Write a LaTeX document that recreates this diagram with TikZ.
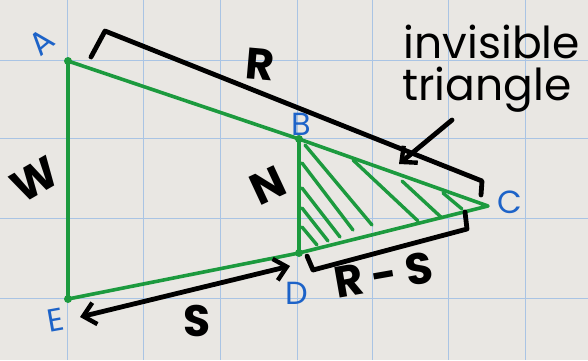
\documentclass[tikz,border=0pt]{standalone}
\usepackage{fontspec}
\setmainfont{Poppins}
\usetikzlibrary{arrows.meta}
\definecolor{paper}{HTML}{E9E7E3}
\definecolor{gridblue}{HTML}{A9C4E4}
\definecolor{gr}{HTML}{1C9A3E}
\definecolor{lblue}{HTML}{1D63C8}
\tikzset{
  gridline/.style={draw=gridblue, line width=0.5pt},
  edge/.style={draw=gr, line width=1.8pt, line join=round, line cap=round},
  hatchline/.style={draw=gr, line width=1.7pt, line cap=round},
  ink/.style={draw=black, line width=2.4pt, line join=round, line cap=round},
  barb/.style={-{Straight Barb[length=6pt,width=11pt,line width=2.2pt]}},
  dbarb/.style={{Straight Barb[length=6pt,width=11pt,line width=2.2pt]}-{Straight Barb[length=6pt,width=11pt,line width=2.2pt]}},
  ptlab/.style={text=lblue, font=\fontsize{16}{16}\selectfont, inner sep=0pt},
  lab/.style={text=black, font=\fontsize{22}{22}\selectfont\bfseries, inner sep=0pt},
  note/.style={text=black, font=\fontsize{22}{22}\selectfont, inner sep=0pt},
  dot/.style={fill=gr}
}
\begin{document}
\begin{tikzpicture}[x=0.5pt,y=-0.5pt]
\fill[paper] (0,0) rectangle (588,360);
\useasboundingbox (0,0) rectangle (588,360);
% graph paper
\foreach \x in {67,143,220,297,372,448,525} \draw[gridline] (\x,0) -- (\x,360);
\foreach \y in {60,138,218,298} \draw[gridline] (0,\y) -- (588,\y);
% points
\coordinate (A) at (68,61);
\coordinate (B) at (299,139);
\coordinate (C) at (488,206);
\coordinate (D) at (299,253);
\coordinate (E) at (68,299);
% hatching of triangle BDC
\draw[hatchline] (305,145) -- (372,225);
\draw[hatchline] (353,160) -- (418,221);
\draw[hatchline] (402,181) -- (442,218);
\draw[hatchline] (443,193) -- (462,209);
\draw[hatchline] (302,163) -- (353,230);
\draw[hatchline] (302,188) -- (340,237);
\draw[hatchline] (302,208) -- (328,241);
\draw[hatchline] (302,227) -- (317,245);
% green figure
\draw[edge] (A) -- (B) -- (C) -- (D) -- (E) -- cycle;
\draw[edge] (B) -- (D);
\foreach \p in {A,B,D,E} \fill[dot] (\p) circle (2pt);
% point labels
\node[ptlab, rotate=40] (lA) at (42,42) {A};
\node[ptlab] (lB) at (301,124) {B};
\node[ptlab] (lC) at (510,202) {C};
\node[ptlab] (lD) at (297,293) {D};
\node[ptlab, rotate=10] (lE) at (56,320) {E};
% R bracket
\coordinate (r1) at (91,57);
\coordinate (r2) at (105,31);
\coordinate (r3) at (482,181);
\coordinate (r4) at (481,195);
\draw[ink] (r1) -- (r2) -- (r3) -- (r4);
\node[lab, rotate=-5] (lR) at (260,64) {R};
% invisible triangle note
\node[note] (inv) at (492,42) {invisible};
\node[note] (tri) at (487,90) {triangle};
\coordinate (aStart) at (452,120);
\coordinate (aTip) at (399,164);
\draw[ink, barb] (aStart) -- (aTip);
% W and N
\node[lab, rotate=30] (lW) at (35,180) {W};
\node[lab, rotate=25] (lN) at (268,186) {N};
% S arrow
\coordinate (s1) at (80,317);
\coordinate (s2) at (290,266);
\draw[ink, dbarb] (s1) -- (s2);
\node[lab] (lS) at (197,321) {S};
% R-S bracket
\coordinate (q1) at (307,256);
\coordinate (q2) at (313,270);
\coordinate (q3) at (467,229);
\coordinate (q4) at (465,212);
\draw[ink] (q1) -- (q2) -- (q3) -- (q4);
\node[lab, rotate=10] (lRS) at (384,275) {R\kern4.5pt-\kern4.5pt S};
\end{tikzpicture}
\end{document}
